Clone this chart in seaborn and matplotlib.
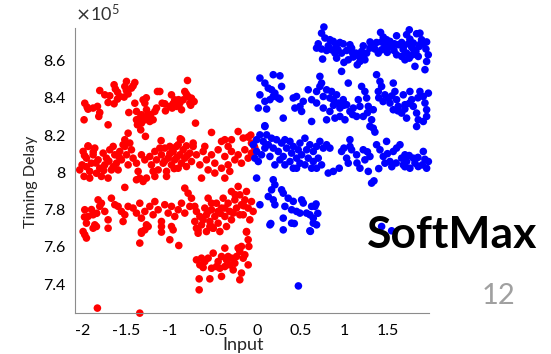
import numpy as np
import pandas as pd
import matplotlib
matplotlib.use("Agg")
import matplotlib.pyplot as plt
from matplotlib.ticker import FuncFormatter
import seaborn as sns

# timing delay readings, (input, delay / 1e5)
red_upper = [(-1.805,8.439),(-1.747,8.416),(-1.690,8.411),(-1.640,8.470),(-1.625,8.447),(-1.602,8.393),(-1.575,8.407),
             (-1.517,8.461),(-1.498,8.488),(-1.479,8.421),(-1.441,8.452),(-1.402,8.482),(-1.422,8.464),(-1.525,8.404),
             (-1.640,8.368),(-1.709,8.375),(-1.977,8.371),(-1.939,8.339),(-1.881,8.345),(-1.831,8.354),(-1.805,8.321),
             (-1.816,8.300),(-1.985,8.282),(-1.709,8.255),(-1.471,8.321),(-1.402,8.371),(-1.383,8.327),(-1.307,8.389),
             (-1.287,8.371),(-1.268,8.336),(-1.326,8.309),(-1.383,8.282),(-1.372,8.255),(-1.334,8.228),(-1.287,8.282),
             (-1.268,8.300),(-1.230,8.273),(-1.192,8.282),(-1.172,8.327),(-1.142,8.434),(-1.115,8.434),(-1.088,8.371),
             (-1.058,8.368),(-1.153,8.345),(-0.981,8.416),(-0.943,8.389),(-0.973,8.345),(-0.924,8.354),(-0.885,8.371),
             (-0.847,8.389),(-0.828,8.434),(-0.797,8.493),(-0.790,8.407),(-0.751,8.398),(-0.721,8.380),(-0.770,8.371),
             (-0.866,8.336),(-1.000,8.354),(-0.705,8.264),(-1.280,8.193),(-1.326,8.264),(-1.345,8.291),
             (-0.810,8.420),(-0.760,8.360),(-0.900,8.390),(-1.050,8.330),(-1.220,8.310),(-1.600,8.430),(-1.500,8.440),
             (-1.950,8.350),(-1.270,8.400),(-0.960,8.370)]

red_middle = [(-1.517,8.175),(-1.479,8.210),(-1.537,8.148),(-1.460,8.157),(-1.939,8.142),(-0.521,8.214),(-0.215,8.219),
              (-0.292,8.175),(-0.157,8.184),(-0.100,8.189),(-0.062,8.157),(-0.406,8.166),(-0.368,8.175),(-0.866,8.175),
              (-0.809,8.142),(-0.732,8.157),(-0.904,8.148),(-0.070,8.200),(-0.030,8.140),
              (-1.996,8.112),(-1.958,8.076),(-2.008,8.040),(-1.985,7.978),(-1.920,8.005),(-1.901,8.049),(-1.881,8.094),
              (-1.862,8.130),(-1.824,8.067),(-1.805,8.022),(-1.843,7.995),(-1.766,8.103),(-1.747,8.040),(-1.728,8.076),
              (-1.709,7.969),(-1.690,8.121),(-1.671,8.013),(-1.939,8.139),(-2.035,8.013),(-1.786,7.978),(-1.920,7.969),
              (-1.632,8.094),(-1.613,8.049),(-1.575,8.112),(-1.556,8.067),(-1.517,8.139),(-1.498,8.094),(-1.479,8.040),
              (-1.441,8.121),(-1.422,8.076),(-1.383,8.049),(-1.364,8.005),(-1.345,7.969),(-1.383,7.960),(-1.307,7.951),
              (-1.268,7.969),(-1.326,8.094),(-1.287,8.067),(-1.651,8.139),(-1.594,8.013),
              (-1.230,8.085),(-1.211,8.040),(-1.172,8.112),(-1.153,8.067),(-1.134,8.013),(-1.096,8.094),(-1.077,8.049),
              (-1.058,8.130),(-1.038,8.005),(-1.019,8.076),(-0.981,8.040),(-0.962,8.112),(-0.943,8.067),(-0.924,8.139),
              (-0.904,8.022),(-0.885,8.094),(-0.866,8.049),(-0.847,8.121),(-0.828,8.076),(-0.809,8.031),(-0.770,8.103),
              (-0.751,8.058),(-0.732,8.139),(-1.172,7.978),(-1.038,7.978),(-1.115,8.130),(-1.000,8.139),(-1.192,8.005),
              (-1.100,8.170),(-1.000,8.100),(-0.880,8.180),(-0.950,8.020),(-1.060,8.060),(-0.800,8.090),(-0.920,8.080),
              (-0.694,8.094),(-0.655,8.040),(-0.617,8.112),(-0.579,8.067),(-0.560,8.013),(-0.521,8.094),(-0.483,8.049),
              (-0.445,8.121),(-0.406,8.022),(-0.368,8.085),(-0.330,8.040),(-0.311,8.005),(-0.292,8.112),(-0.253,8.067),
              (-0.215,8.094),(-0.177,8.049),(-0.138,8.121),(-0.100,8.076),(-0.062,8.103),(-0.023,8.130),(-0.636,7.969),
              (-0.483,7.996),(-0.368,7.969),(-0.598,8.139),(-0.330,8.139),(-1.960,8.030),(-1.850,8.050),(-1.760,8.010),
              (-1.880,8.110),(-1.700,8.060),(-1.580,8.080),(-1.650,8.030),(-1.980,8.090)]

red_lower = [(-1.517,7.919),(-1.977,7.799),(-1.939,7.763),(-1.958,7.727),(-1.996,7.682),(-1.881,7.772),(-1.862,7.718),
             (-1.824,7.852),(-1.805,7.817),(-1.786,7.834),(-1.747,7.790),(-1.709,7.745),(-1.671,7.861),(-1.632,7.826),
             (-1.594,7.817),(-1.556,7.790),(-1.517,7.772),(-1.479,7.817),(-1.537,7.736),(-1.422,7.808),(-1.383,7.781),
             (-1.345,7.834),(-1.326,7.754),(-1.287,7.790),(-1.268,7.718),(-1.230,7.817),(-1.192,7.772),(-1.172,7.843),
             (-1.134,7.799),(-1.096,7.736),(-1.058,7.826),(-1.019,7.781),(-0.981,7.817),(-0.943,7.763),(-0.904,7.799),
             (-0.866,7.834),(-0.828,7.915),(-0.790,7.888),(-0.751,7.861),(-0.770,7.817),(-0.828,7.781),(-0.981,7.709),
             (-1.326,7.682),(-1.709,7.700),(-1.096,7.679),(-1.980,7.760),(-1.900,7.800),(-1.840,7.780),
             (-0.694,7.790),(-0.655,7.763),(-0.636,7.718),(-0.598,7.808),(-0.579,7.772),(-0.560,7.861),(-0.540,7.736),
             (-0.521,7.799),(-0.502,7.700),(-0.483,7.763),(-0.464,7.834),(-0.445,7.727),(-0.406,7.808),(-0.387,7.861),
             (-0.368,7.763),(-0.330,7.834),(-0.311,7.790),(-0.292,7.897),(-0.253,7.852),(-0.234,7.808),(-0.215,7.924),
             (-0.196,7.879),(-0.177,7.826),(-0.157,7.772),(-0.138,7.852),(-0.119,7.897),(-0.100,7.808),(-0.081,7.745),
             (-0.062,7.843),(-0.043,7.790),(-0.119,7.682),(-0.196,7.772),(-0.292,7.745),(-0.349,7.709),(-0.425,7.682),
             (-0.521,7.709),(-0.579,7.682),(-0.675,7.691),(-0.713,7.736),(-0.617,7.745),(-0.368,7.808),(-0.272,7.781),
             (-0.445,7.790),(-0.560,7.790),(-0.521,7.834),(-0.713,7.817),(-0.250,7.880),(-0.150,7.820),(-0.420,7.780),
             (-1.977,7.665),(-1.958,7.647),(-1.881,7.700),(-1.843,7.709),(-1.345,7.620),(-1.326,7.673),(-1.287,7.691),
             (-1.249,7.709),(-1.000,7.638),(-0.962,7.691),(-0.897,7.607),(-1.096,7.709),(-0.694,7.700),(-0.675,7.673),
             (-0.540,7.709),(-0.502,7.700)]

red_bottom = [(-0.694,7.530),(-0.655,7.503),(-0.617,7.489),(-0.598,7.521),(-0.560,7.539),(-0.502,7.566),(-0.464,7.494),
              (-0.425,7.485),(-0.406,7.548),(-0.368,7.593),(-0.349,7.530),(-0.330,7.548),(-0.272,7.476),(-0.253,7.512),
              (-0.215,7.593),(-0.196,7.575),(-0.177,7.602),(-0.157,7.539),(-0.138,7.557),(-0.119,7.679),(-0.100,7.638),
              (-0.092,7.602),(-0.100,7.503),(-0.177,7.459),(-0.196,7.423),(-0.406,7.441),(-0.540,7.428),(-0.663,7.428),
              (-0.663,7.369),(-0.521,7.485),(-0.445,7.521),(-0.311,7.503),(-0.234,7.548),(-0.636,7.539),(-0.368,7.494),
              (-0.292,7.539)]

red_stray = [(-1.832,7.271),(-1.345,7.244)]

blue_top = [(0.770,8.780),(0.743,8.747),(0.782,8.721),(0.839,8.712),(0.878,8.703),(0.705,8.690),(0.743,8.662),
            (0.686,8.667),(0.820,8.679),(0.858,8.658),(0.908,8.685),(0.954,8.697),(0.992,8.690),(1.069,8.685),
            (1.088,8.667),(1.031,8.654),(0.973,8.640),(0.916,8.613),(1.000,8.590),(1.050,8.604),(1.107,8.619),
            (1.138,8.640),(1.165,8.626),(1.203,8.649),(1.222,8.679),(1.261,8.640),(1.241,8.604),(1.184,8.595),
            (1.153,8.577),(0.973,8.542),(0.755,8.608),(1.318,8.690),(1.375,8.697),(1.421,8.751),(1.452,8.726),
            (1.490,8.712),(1.529,8.703),(1.471,8.679),(1.433,8.658),(1.395,8.640),(1.356,8.662),(1.299,8.667),
            (1.498,8.644),(1.575,8.654),(1.605,8.733),(1.624,8.685),(1.663,8.697),(1.682,8.672),(1.720,8.739),
            (1.751,8.765),(1.758,8.715),(1.797,8.694),(1.835,8.744),(1.873,8.747),(1.892,8.712),(1.912,8.690),
            (1.942,8.662),(1.969,8.631),(1.950,8.595),(1.931,8.551),(1.827,8.649),(1.789,8.631),(1.720,8.640),
            (1.663,8.622),(1.751,8.613),(1.816,8.569),(1.854,8.622),(1.605,8.631),(1.548,8.676),(1.701,8.604),
            (1.866,8.676),(1.778,8.672),(0.801,8.654),(0.897,8.640),(1.300,8.700),(1.680,8.660),(1.800,8.660),
            (1.580,8.690),(1.100,8.640),(0.930,8.660),(1.220,8.620),(1.740,8.690),(1.500,8.670),(1.880,8.690),
            (1.950,8.700),(1.430,8.700)]

blue_second = [(0.035,8.506),(0.092,8.479),(0.131,8.452),(0.188,8.524),(0.265,8.518),(0.169,8.443),(0.207,8.425),
               (0.246,8.399),(0.150,8.390),(0.092,8.381),(0.035,8.416),(0.284,8.461),(0.016,8.345),(0.112,8.340),
               (0.265,8.393),(0.303,8.291),(0.092,8.250),(0.188,8.407),
               (0.418,8.399),(0.456,8.407),(0.437,8.345),(0.495,8.354),(0.514,8.327),(0.590,8.443),(0.629,8.390),
               (0.629,8.273),(0.686,8.434),(0.724,8.461),(0.743,8.479),(0.724,8.515),(0.763,8.407),(0.801,8.443),
               (0.839,8.399),(0.858,8.434),(0.878,8.390),(0.916,8.416),(0.935,8.372),(0.954,8.345),(0.992,8.390),
               (1.031,8.363),(1.050,8.479),(1.069,8.327),(1.107,8.345),(1.146,8.300),(1.165,8.390),(1.184,8.354),
               (1.203,8.461),(1.241,8.434),(1.261,8.399),(1.280,8.354),(1.222,8.300),(1.337,8.336),(1.318,8.282),
               (1.299,8.247),(1.375,8.524),(1.414,8.488),(1.433,8.461),(1.471,8.416),(1.395,8.434),(1.510,8.399),
               (1.529,8.372),(1.567,8.479),(1.586,8.434),(1.605,8.390),(1.624,8.354),(1.663,8.318),(1.682,8.416),
               (1.701,8.363),(1.758,8.434),(1.778,8.390),(1.797,8.354),(1.835,8.318),(1.873,8.434),(1.912,8.407),
               (1.931,8.372),(1.950,8.336),(1.970,8.425),(1.854,8.282),(1.912,8.273),(1.720,8.291),(1.567,8.336),
               (0.839,8.327),(0.897,8.291),(0.954,8.300),(1.012,8.282),(0.801,8.282),(0.763,8.345),(0.533,8.381),
               (0.686,8.372),(1.000,8.360),(1.400,8.400),(1.450,8.380),(1.550,8.410),(1.750,8.370),(1.850,8.400),
               (1.620,8.330),(1.270,8.320),(0.880,8.360),(1.100,8.310),(1.700,8.340),(1.950,8.300)]

blue_third = [(1.337,8.237),(1.356,8.216),(1.835,8.246),(0.092,8.246),
              (-0.003,8.175),(0.035,8.201),(0.073,8.166),(0.112,8.201),(0.131,8.148),(0.169,8.183),(0.188,8.130),
              (0.226,8.175),(0.246,8.112),(0.284,8.157),(0.303,8.085),(0.322,8.175),(0.341,8.130),(0.380,8.166),
              (0.399,8.103),(0.418,8.139),(0.456,8.076),(0.475,8.121),(0.495,8.157),(0.514,8.094),(0.552,8.183),
              (0.571,8.121),(0.590,8.076),(0.629,8.022),(0.648,8.112),(0.686,8.139),(0.705,8.076),(0.724,8.166),
              (0.743,8.040),(0.763,8.130),(0.801,8.148),(0.839,8.130),(0.820,7.996),(0.878,8.005),(0.946,8.022),
              (0.973,8.112),(1.031,8.076),(1.069,8.175),(1.088,8.121),(1.050,8.049),(1.146,8.094),(1.184,8.022),
              (1.222,8.121),(1.241,8.067),(1.280,8.005),(1.299,8.085),(1.318,7.942),(1.345,7.954),(1.375,8.148),
              (1.414,8.121),(1.452,8.085),(1.490,8.166),(1.471,8.049),(1.529,8.058),(1.567,8.112),(1.605,8.130),
              (1.644,8.148),(1.663,8.076),(1.682,8.040),(1.701,8.094),(1.720,8.058),(1.758,8.022),(1.797,8.076),
              (1.816,8.049),(1.854,8.031),(1.912,8.112),(1.950,8.022),(1.970,8.058),(1.069,8.139),
              (-0.023,8.076),(0.016,8.058),(-0.003,8.112),(0.150,8.085),(0.207,8.040),(0.322,8.040),(0.418,8.022),
              (0.552,8.040),(0.686,8.022),(0.609,8.148),(0.380,8.058),(0.265,8.067),(0.456,8.022),(0.648,8.058),
              (0.495,8.049),(0.092,8.130),(0.054,8.094),(-0.042,8.148),
              (1.500,8.100),(1.600,8.050),(1.750,8.090),(1.850,8.080),(1.900,8.040),(1.400,8.020),(1.150,8.050),
              (1.000,8.130),(1.270,8.110),(1.930,8.070),(1.700,8.030),(1.550,8.030)]

blue_lower = [(-0.003,7.969),(0.188,7.960),(0.207,7.933),(0.169,7.906),(0.284,7.906),(0.303,7.888),(0.131,7.870),
              (0.188,7.852),(0.207,7.826),(0.035,7.826),(0.322,7.817),(0.360,7.861),(0.418,7.844),(0.514,7.852),
              (0.533,7.835),(0.399,7.799),(0.456,7.790),(0.495,7.781),(0.571,7.781),(0.629,7.817),(0.667,7.817),
              (0.609,7.772),(0.648,7.754),(0.648,7.727),(0.686,7.718),(0.150,7.718),(0.303,7.754),(0.399,7.727),
              (0.303,7.691),(0.609,7.686),(0.160,7.725),(0.430,7.725),(0.615,7.683),(0.700,7.780),(0.680,7.830)]

blue_stray = [(0.477,7.390),(1.433,7.709),(1.548,7.686)]

red_pts = red_upper + red_middle + red_lower + red_bottom + red_stray
blue_pts = blue_top + blue_second + blue_third + blue_lower + blue_stray

df = pd.DataFrame(red_pts + blue_pts, columns=["input", "delay"])
df["delay"] = df["delay"] * 1e5
df["side"] = ["neg"] * len(red_pts) + ["pos"] * len(blue_pts)

sns.set_style("white")
plt.rcParams["font.family"] = ["Lato", "DejaVu Sans"]

fig = plt.figure(figsize=(5.51, 3.54), dpi=100)
ax = fig.add_axes([0.136, 0.116, 0.643, 0.805])

sns.scatterplot(data=df, x="input", y="delay", hue="side",
                palette={"neg": "#ff0000", "pos": "#0000ff"},
                s=30, linewidth=0, alpha=1, legend=False, ax=ax)
for coll in ax.collections:
    coll.set_clip_on(False)

ax.set_xlim(-2.09, 1.98)
ax.set_ylim(7.245e5, 8.775e5)
ax.set_xticks([-2, -1.5, -1, -0.5, 0, 0.5, 1, 1.5])
ax.set_yticks([7.4e5, 7.6e5, 7.8e5, 8.0e5, 8.2e5, 8.4e5, 8.6e5])
ax.xaxis.set_major_formatter(FuncFormatter(lambda v, p: f"{v:g}"))
ax.yaxis.set_major_formatter(FuncFormatter(lambda v, p: f"{v / 1e5:g}"))
ax.tick_params(direction="in", length=3, width=0.8, color="#8c8c8c",
               labelsize=11.5, labelcolor="black")
ax.tick_params(axis="x", pad=8)
ax.tick_params(axis="y", pad=7)

sns.despine(ax=ax)
for side in ["left", "bottom"]:
    ax.spines[side].set_color("#8c8c8c")
    ax.spines[side].set_linewidth(0.8)

ax.set_xlabel("Input", fontsize=13)
ax.set_ylabel("Timing Delay", fontsize=11.5)
ax.xaxis.set_label_coords(0.475, -0.085)
ax.yaxis.set_label_coords(-0.105, 0.46)

ax.text(0.0, 1.012, r"$\times\mathregular{10^5}$", transform=ax.transAxes,
        fontsize=13, ha="left", va="bottom", color="#333333")

fig.text(0.82, 0.336, "SoftMax", fontsize=32, fontweight="bold",
         ha="center", va="center", color="black")
fig.text(0.904, 0.165, "12", fontsize=21, ha="center", va="center", color="#a0a0a0")

fig.savefig("out.png", dpi=100)
